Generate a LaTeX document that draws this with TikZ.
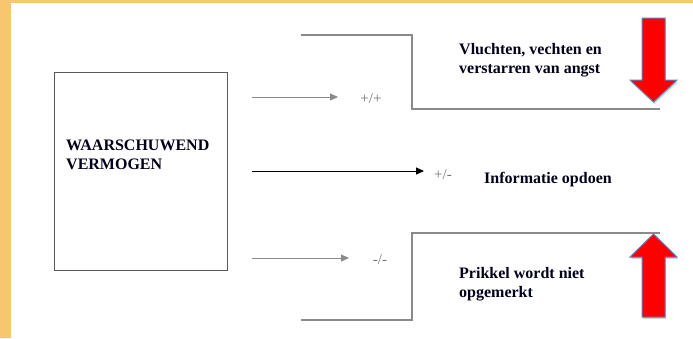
\documentclass[tikz,border=0pt]{standalone}
\usepackage{fontspec}
\setmainfont{Liberation Serif}
\usetikzlibrary{arrows.meta,shadows}

\definecolor{rand}{HTML}{F7C66E}
\definecolor{lijngrijs}{HTML}{8A8A8A}
\definecolor{pijlrand}{HTML}{5B7FBF}

\begin{document}
\begin{tikzpicture}[x=1pt,y=-1pt,
		lijn/.style={draw=lijngrijs,line width=1.3pt},
		pijl/.style={-{Triangle[length=8pt,width=7pt]},line width=1pt},
		tekst/.style={font=\bfseries\fontsize{16}{19}\selectfont,align=left,
			anchor=north west,inner sep=0pt,text=black!90!blue},
		teken/.style={font=\fontsize{15}{17}\selectfont,text=black!55,inner sep=0pt},
		rood/.style={fill=red,draw=pijlrand,line width=1pt,line join=miter,
			drop shadow={opacity=0.35,shadow xshift=1pt,shadow yshift=-2pt}}]
		\useasboundingbox (0,0) rectangle (693,338);

		% Frame
		\fill[rand] (0,0) rectangle (11,338);
		\fill[rand] (0,0) rectangle (693,3);

		% Main box
		\node[draw=black!65,line width=1.3pt,minimum width=173pt,minimum height=198pt,
			anchor=north west,inner sep=0pt] (box) at (54,72) {};
		\node[tekst] (waarsch) at (66,139.5) {WAARSCHUWEND\\VERMOGEN};

		% Signs
		\node[teken] (pp) at (371,99) {+/+};
		\node[teken] (pm) at (443,175) {+/-};
		\node[teken] (mm) at (380,260) {-/-};

		% Arrows
		\coordinate (s1) at (252,97);
		\coordinate (e1) at (338,97);
		\coordinate (s2) at (252,171);
		\coordinate (e2) at (424,171);
		\coordinate (s3) at (252,258);
		\coordinate (e3) at (349,258);
		\draw[pijl,draw=lijngrijs] (s1) -- (e1);
		\draw[pijl] (s2) -- (e2);
		\draw[pijl,draw=lijngrijs] (s3) -- (e3);

		% Outcomes
		\node[tekst] (vlucht) at (459,43.5) {Vluchten, vechten en\\verstarren van angst};
		\node[tekst] (info) at (484,172.5) {Informatie opdoen};
		\node[tekst] (prikkel) at (459,267.5) {Prikkel wordt niet\\opgemerkt};

		% Brackets
		\coordinate (b1) at (301,35);
		\coordinate (b2) at (412,35);
		\coordinate (b3) at (412,109);
		\coordinate (b4) at (660,109);
		\draw[lijn] (b1) -- (b2) -- (b3) -- (b4);
		\coordinate (c1) at (660,233);
		\coordinate (c2) at (412,233);
		\coordinate (c3) at (412,320);
		\coordinate (c4) at (301,320);
		\draw[lijn] (c1) -- (c2) -- (c3) -- (c4);

		% Red arrows
		\draw[rood] (642,18) -- (665,18) -- (665,80) -- (677,80) -- (653.5,102)
			-- (630,80) -- (642,80) -- cycle;
		\draw[rood] (642,317) -- (665,317) -- (665,257) -- (677,257) -- (653.5,234)
			-- (630,257) -- (642,257) -- cycle;
	\end{tikzpicture}
\end{document}
